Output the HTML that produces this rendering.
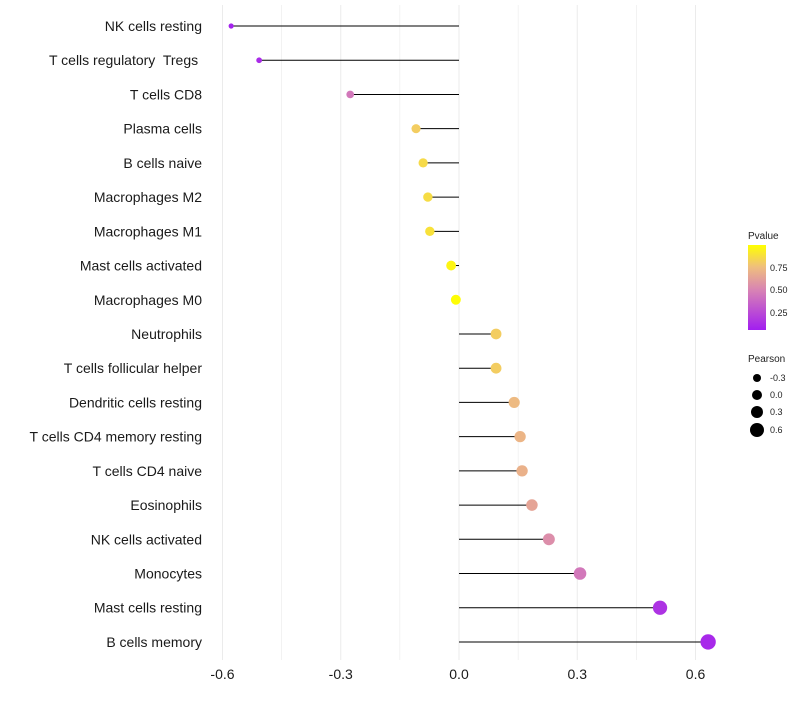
<!DOCTYPE html>
<html><head><meta charset="utf-8"><style>
body{margin:0;background:#fff;font-family:"Liberation Sans",sans-serif}
</style></head><body>
<svg id="c" width="800" height="700" xmlns="http://www.w3.org/2000/svg">
<defs><linearGradient id="pg" x1="0" y1="1" x2="0" y2="0">
<stop offset="0" stop-color="#a21ef0"/><stop offset="0.47" stop-color="#d883b4"/><stop offset="0.74" stop-color="#efbe7e"/><stop offset="1" stop-color="#ffff00"/></linearGradient></defs>
<g id="grid"></g><g id="marks"></g><g id="labels"></g>
<g font-size="9" fill="#222">
<text x="748" y="239" font-size="10">Pvalue</text>
<rect x="748" y="245" width="18" height="85" fill="url(#pg)"/>
<text x="770" y="271">0.75</text><text x="770" y="293">0.50</text><text x="770" y="316">0.25</text>
</g>
<g font-size="9" fill="#222">
<text x="748" y="362" font-size="10">Pearson</text>
<circle cx="757" cy="378" r="4" fill="#000"/><text x="770" y="381">-0.3</text>
<circle cx="757" cy="395" r="5" fill="#000"/><text x="770" y="398">0.0</text>
<circle cx="757" cy="412" r="6" fill="#000"/><text x="770" y="415">0.3</text>
<circle cx="757" cy="430" r="7" fill="#000"/><text x="770" y="433">0.6</text>
</g>
</svg>
<script>
const categories=["NK cells resting","T cells regulatory  Tregs ","T cells CD8","Plasma cells","B cells naive","Macrophages M2","Macrophages M1","Mast cells activated","Macrophages M0","Neutrophils","T cells follicular helper","Dendritic cells resting","T cells CD4 memory resting","T cells CD4 naive","Eosinophils","NK cells activated","Monocytes","Mast cells resting","B cells memory"];
const pearson=[-0.578,-0.507,-0.276,-0.109,-0.091,-0.079,-0.074,-0.020,-0.008,0.094,0.094,0.140,0.155,0.160,0.185,0.228,0.307,0.510,0.632];
const pvalue=[0.02,0.06,0.42,0.80,0.85,0.86,0.88,0.96,0.99,0.80,0.80,0.72,0.70,0.68,0.62,0.52,0.42,0.10,0.05];
const xTicks=[-0.6,-0.3,0.0,0.3,0.6];
const ns="http://www.w3.org/2000/svg";
const xs=v=>459+v*394.2;
const ys=i=>26+i*34.22;
const rs=v=>Math.max(1.8,5+4.2*v);
function hex(h){return [1,3,5].map(i=>parseInt(h.substr(i,2),16));}
const stops=[[0,hex("#a21ef0")],[0.47,hex("#d883b4")],[0.74,hex("#efbe7e")],[1,hex("#ffff00")]];
function col(p){for(let k=1;k<stops.length;k++){if(p<=stops[k][0]){const a=stops[k-1],b=stops[k],t=(p-a[0])/(b[0]-a[0]);return "rgb("+a[1].map((c,j)=>Math.round(c+(b[1][j]-c)*t)).join(",")+")";}}return "rgb(255,255,0)";}
function mk(t,at,par){const e=document.createElementNS(ns,t);for(const k in at)e.setAttribute(k,at[k]);document.getElementById(par).appendChild(e);return e;}
for(let v=-0.6;v<=0.61;v+=0.15){const l=mk("line",{x1:xs(v),x2:xs(v),y1:5,y2:660,stroke:"#ebebeb","stroke-width":Math.abs(Math.round(v/0.15))%2==0?1:0.6},"grid");

}
xTicks.forEach(v=>{const t=mk("text",{x:xs(v),y:679,"text-anchor":"middle","font-size":"14",fill:"#1a1a1a"},"labels");t.textContent=v.toFixed(1);

});
categories.forEach((c,i)=>{const y=ys(i);
const t=mk("text",{x:202,y:y+5,"text-anchor":"end","font-size":"14",fill:"#1a1a1a","xml:space":"preserve"},"labels");t.style.whiteSpace="pre";t.textContent=c;


const l=mk("line",{x1:xs(0),x2:xs(pearson[i]),y1:y,y2:y,stroke:"#000","stroke-width":1},"marks");


const d=mk("circle",{cx:xs(pearson[i]),cy:y,r:rs(pearson[i]),fill:col(pvalue[i])},"marks");

});
</script>
</body></html>
